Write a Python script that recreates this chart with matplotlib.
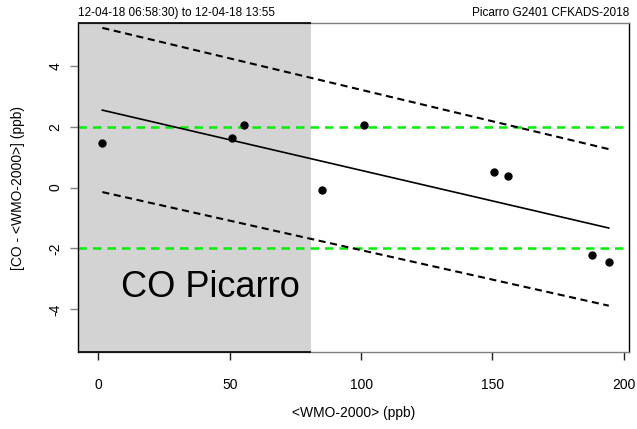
import matplotlib
matplotlib.use("Agg")
import matplotlib.pyplot as plt
from matplotlib.patches import Rectangle

plt.rcParams['font.family'] = ['Liberation Sans', 'DejaVu Sans']

# Measurements: reference value vs. deviation from it
wmo = [1.5, 51.0, 55.6, 85.0, 101.3, 150.7, 156.1, 188.1, 194.3]
dev = [1.46, 1.62, 2.06, -0.09, 2.06, 0.51, 0.38, -2.22, -2.45]

# Linear fit and its bounds at the ends of the range
fit_x = [1.5, 194.3]
fit_y = [2.54, -1.33]
upper_y = [5.24, 1.26]
lower_y = [-0.15, -3.88]

# Tolerance limits
tolerance = [2, -2]

# Range below the shaded threshold
shade_end = 81

xticks = [0, 50, 100, 150, 200]
yticks = [-4, -2, 0, 2, 4]

W, H, DPI = 637, 429, 100
fig = plt.figure(figsize=(W / DPI, H / DPI), dpi=DPI)
ax = fig.add_axes([78 / W, 1 - 352 / H, (629 - 78) / W, (352 - 23) / H])

xlim = (-7.77, 202.0)
ylim = (-5.4, 5.4)
ax.set_xlim(*xlim)
ax.set_ylim(*ylim)

ax.add_patch(Rectangle((xlim[0], ylim[0]), shade_end - xlim[0], ylim[1] - ylim[0],
                       facecolor='#d3d3d3', edgecolor='none', zorder=0))
# dark edge of the shaded block along the frame
ax.plot([xlim[0], shade_end], [ylim[1], ylim[1]], color='black', lw=1.2,
        clip_on=False, zorder=5, solid_capstyle='butt')
ax.plot([xlim[0], shade_end], [ylim[0], ylim[0]], color='black', lw=1.2,
        clip_on=False, zorder=5, solid_capstyle='butt')

for t in tolerance:
    ax.axhline(t, color='#00ee00', lw=1.8, linestyle=(0, (3.4, 2.4)), zorder=2)

ax.plot(fit_x, fit_y, color='black', lw=1.2, zorder=3)
ax.plot(fit_x, upper_y, color='black', lw=1.5, linestyle=(0, (3.4, 2.2)), zorder=3)
ax.plot(fit_x, lower_y, color='black', lw=1.5, linestyle=(0, (3.4, 2.2)), zorder=3)

ax.plot(wmo, dev, 'o', color='black', markersize=5, zorder=4)

ax.text(8.6, -3.58, 'CO Picarro', fontsize=26, ha='left', va='baseline', zorder=6)

for side in ['left', 'right']:
    ax.spines[side].set_color('black')
    ax.spines[side].set_linewidth(1.0)
for side in ['top', 'bottom']:
    ax.spines[side].set_color('#808080')
    ax.spines[side].set_linewidth(1.0)

ax.set_xticks(xticks)
ax.set_yticks(yticks)
ax.set_yticklabels([str(v) for v in yticks], rotation=90, va='center')
ax.tick_params(axis='x', length=6, width=1, color='#222222', labelsize=10, pad=13)
ax.tick_params(axis='y', length=6, width=1, color='#808080', labelsize=10, pad=5)

ax.set_xlabel('<WMO-2000> (ppb)', fontsize=10, va='center')
ax.set_ylabel('[CO - <WMO-2000>] (ppb)', fontsize=10, va='center')
ax.xaxis.set_label_coords(0.5, (352 - 413) / (352 - 23))
ax.yaxis.set_label_coords((18 - 78) / (629 - 78), 0.5)

fig.text(78 / W, 1 - 16 / H, '12-04-18 06:58:30) to 12-04-18 13:55', fontsize=8.5,
         ha='left', va='baseline')
fig.text(629 / W, 1 - 16 / H, 'Picarro G2401 CFKADS-2018', fontsize=8.5,
         ha='right', va='baseline')

fig.savefig('out.png', dpi=DPI)
